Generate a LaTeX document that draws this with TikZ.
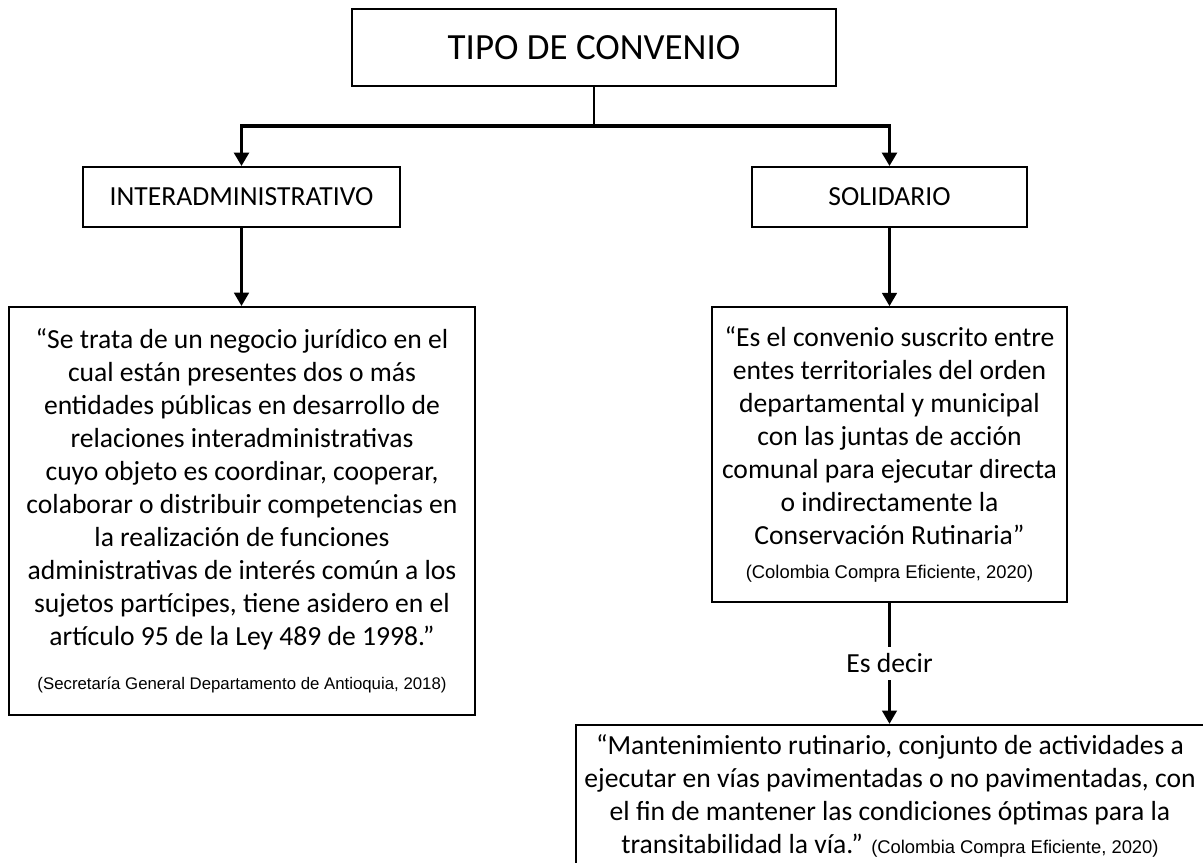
\documentclass[tikz,border=0pt]{standalone}
\usepackage{fontspec}
\setmainfont{Carlito}
\newfontfamily\citefont{Liberation Sans}
\usetikzlibrary{arrows.meta, positioning}
\tikzset{
    x=0.75pt, y=-0.75pt, % One unit is one pixel of the reference
    every box/.style={ % Sets the properties for each box
        draw,
        line width=1.5pt,
        align=center,
        inner sep=0pt
    },
    quote/.style={ % Long quoted texts
        every box,
        font=\fontsize{20.7}{24.75}\selectfont
    },
    link/.style={ % Sets the properties for each connector
        draw,
        line width=2pt,
        -{Triangle[width=11pt,length=10pt]}
    }
}
\newcommand{\source}[2][13.8]{{\citefont\fontsize{#1}{16}\selectfont #2}}

\begin{document}
\begin{tikzpicture}
        \useasboundingbox (0,0) rectangle (1203,863);
        \clip (0,0) rectangle (1203,863);
        \node[every box, minimum width=363pt, minimum height=58pt,
            font=\fontsize{27.7}{30}\selectfont] (tipo) at (594,47.5) {TIPO DE CONVENIO};
        \node[every box, minimum width=238pt, minimum height=45pt,
            font=\fontsize{20.7}{22}\selectfont] (inter) at (241.5,197) {INTERADMINISTRATIVO};
        \node[every box, minimum width=206pt, minimum height=45pt,
            font=\fontsize{20.7}{22}\selectfont] (solid) at (889.5,197) {SOLIDARIO};
        \node[quote, minimum width=349.5pt, minimum height=306pt] (defInter) at (242,511)
            {“Se trata de un negocio jurídico en el\\
            cual están presentes dos o más\\
            entidades públicas en desarrollo de\\
            relaciones interadministrativas\\
            cuyo objeto es coordinar, cooperar,\\
            colaborar o distribuir competencias en\\
            la realización de funciones\\
            administrativas de interés común a los\\
            sujetos partícipes, tiene asidero en el\\
            artículo 95 de la Ley 489 de 1998.”\\[8pt]
            \source[12.6]{(Secretaría General Departamento de Antioquia, 2018)}};
        \node[quote, minimum width=266pt, minimum height=221pt] (defSolid) at (889.5,454.5)
            {“Es el convenio suscrito entre\\
            entes territoriales del orden\\
            departamental y municipal\\
            con las juntas de acción\\
            comunal para ejecutar directa\\
            o indirectamente la\\
            Conservación Rutinaria”\\[1pt]
            \source{(Colombia Compra Eficiente, 2020)}};
        \node[quote, minimum width=471pt, minimum height=106pt] (mant) at (890,795.5)
            {“Mantenimiento rutinario, conjunto de actividades a\\
            ejecutar en vías pavimentadas o no pavimentadas, con\\
            el fin de mantener las condiciones óptimas para la\\
            transitabilidad la vía.” \source{(Colombia Compra Eficiente, 2020)}};
        \coordinate (split) at (594,126);
        \draw[line width=2.2pt] (tipo) -- (split);
        \draw[link, line width=2.4pt] (split) -| (inter);
        \draw[link, line width=2.4pt] (split) -| (solid);
        \draw[link] (inter) -- (inter |- defInter.north);
        \draw[link] (solid) -- (defSolid);
        \draw[link] (defSolid) -- node[fill=white, inner sep=5pt,
            font=\fontsize{20.7}{22}\selectfont]{Es decir} (defSolid |- mant.north);
    \end{tikzpicture}
\end{document}
